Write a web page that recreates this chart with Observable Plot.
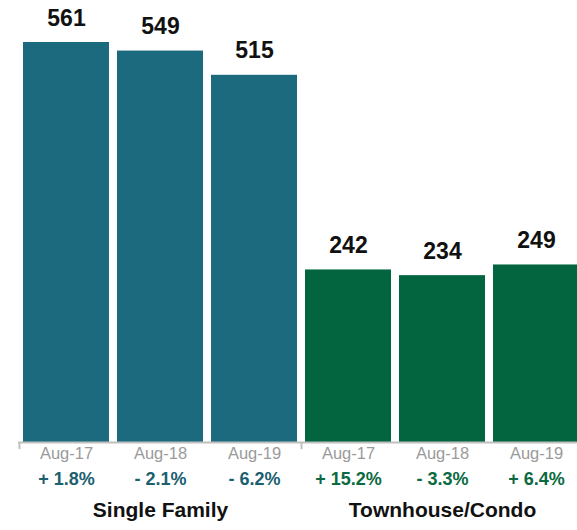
<!DOCTYPE html>
<html>
<head>
<meta charset="utf-8">
<script src="https://cdn.jsdelivr.net/npm/d3@7"></script>
<script src="https://cdn.jsdelivr.net/npm/@observablehq/plot@0.6"></script>
<style>
  html, body { margin: 0; padding: 0; background: #fff; }
  svg { display: block; }
</style>
</head>
<body>
<div id="chart"></div>
<script>
const groups = ["Single Family", "Townhouse/Condo"];
const months = ["Aug-17", "Aug-18", "Aug-19"];
const singleFamily = [561, 549, 515];
const townhouseCondo = [242, 234, 249];
const singleFamilyChange = ["+ 1.8%", "- 2.1%", "- 6.2%"];
const townhouseCondoChange = ["+ 15.2%", "- 3.3%", "+ 6.4%"];
const groupColors = ["#1b6a7d", "#02653f"];
const changeColors = ["#1b5f70", "#0b6a42"];

const seriesValues = [singleFamily, townhouseCondo];
const seriesChanges = [singleFamilyChange, townhouseCondoChange];
const data = [];
groups.forEach((g, gi) => {
  months.forEach((m, mi) => {
    data.push({
      key: g + "|" + m,
      group: g,
      gi,
      month: m,
      mi,
      value: seriesValues[gi][mi],
      change: seriesChanges[gi][mi]
    });
  });
});
const firstOfGroup = data.filter(d => d.mi === 0);
const middleOfGroup = data.filter(d => d.mi === 1);
const font = "Liberation Sans, Arial, Helvetica, sans-serif";

const chart = Plot.plot({
  width: 577,
  height: 530,
  marginTop: 42,
  marginBottom: 88,
  marginLeft: 18,
  marginRight: -7,
  style: { fontFamily: font, background: "#fff", overflow: "visible" },
  x: { domain: data.map(d => d.key), paddingInner: 0.089, paddingOuter: 0.042, axis: null },
  y: { domain: [0, 561], axis: null },
  marks: [
    Plot.barY(data, { x: "key", y: "value", fill: d => groupColors[d.gi] }),
    Plot.ruleY([0], { stroke: "#c0c0c0", strokeWidth: 2 }),
    Plot.ruleX(firstOfGroup, { x: "key", y1: 0, y2: -10, dx: -47, stroke: "#c0c0c0", strokeWidth: 2 }),
    Plot.text(data, { x: "key", y: "value", text: d => String(d.value), lineAnchor: "bottom", dy: -17, fontSize: 23, fontWeight: "bold", fill: "#111" }),
    Plot.text(data, { x: "key", text: "month", frameAnchor: "bottom", dy: 16, fontSize: 16.5, fill: "#9a9a9a" }),
    Plot.text(data, { x: "key", text: "change", frameAnchor: "bottom", dy: 42, fontSize: 18, fontWeight: "bold", fill: d => changeColors[d.gi] }),
    Plot.text(middleOfGroup, { x: "key", text: "group", frameAnchor: "bottom", dy: 74, fontSize: 21, fontWeight: "bold", fill: "#111" })
  ]
});
document.getElementById("chart").appendChild(chart);
</script>
</body>
</html>
